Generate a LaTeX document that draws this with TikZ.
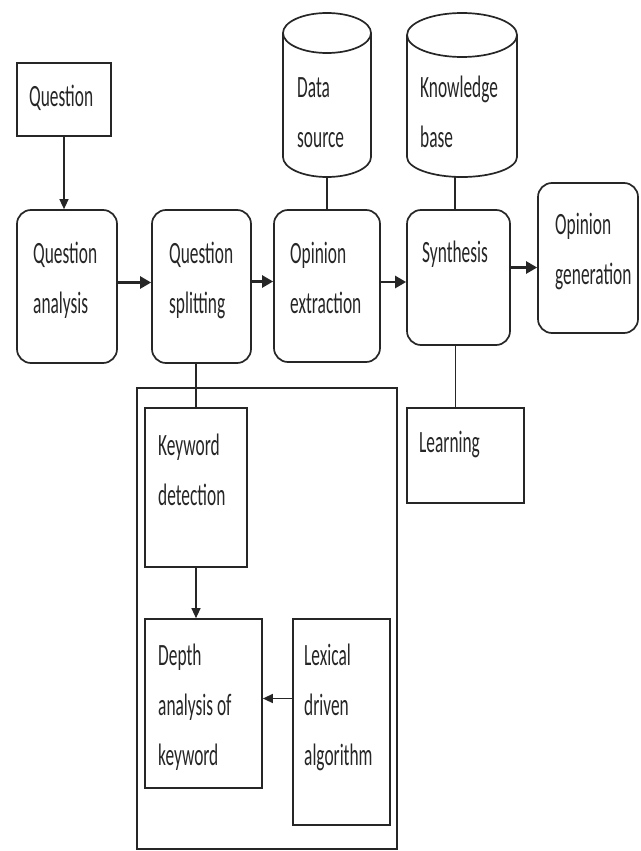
\documentclass[tikz,border=0pt]{standalone}
\usepackage{fontspec}
\setmainfont{Carlito}[FakeStretch=0.56]
\usetikzlibrary{arrows.meta,fit}
\definecolor{ln}{HTML}{262626}
\tikzset{
  x=1pt, y=-1pt,
  sq/.style={draw=ln, line width=1.7pt, inner sep=0pt},
  rbox/.style={sq, rounded corners=14pt},
  txt/.style={inner sep=0pt, anchor=base west, text=ln, font=\fontsize{31}{50}\selectfont},
  arr/.style={draw=ln, line width=1.3pt, -{Triangle[length=10pt,width=9pt]}},
  barr/.style={draw=ln, line width=2.4pt, -{Triangle[length=11pt,width=12pt]}},
  con/.style={draw=ln, line width=1.4pt},
}
\newcommand{\twol}[1]{\begin{tabular}[t]{@{}l@{}}#1\end{tabular}}
\begin{document}
\begin{tikzpicture}
\useasboundingbox (0,0) rectangle (640,851);
% container
\node[sq, line width=1.3pt, fit={(137,388) (397,849)}] (cont) {};
% boxes
\node[sq, fit={(17,63) (111,136)}] (q) {};
\node[rbox, fit={(17,210) (117,363)}] (qa) {};
\node[rbox, fit={(152,210) (251,363)}] (qs) {};
\node[rbox, fit={(274,210) (380,362)}] (oe) {};
\node[rbox, fit={(407,210) (510,345)}] (syn) {};
\node[rbox, fit={(538,183) (638,333)}] (og) {};
\node[sq, fit={(407,408) (524,503)}] (lr) {};
\node[sq, fit={(145,408) (247,567)}] (kd) {};
\node[sq, fit={(145,619) (262,788)}] (da) {};
\node[sq, fit={(293,619) (390,825)}] (lx) {};
% cylinders
\draw[con, line width=1.7pt] (283,33) -- (283,157) arc[start angle=180, end angle=360, x radius=44, y radius=-20] -- (371,33);
\draw[con, line width=1.7pt] (327,33) ellipse[x radius=44, y radius=20];
\coordinate (ds) at (327,177);
\draw[con, line width=1.7pt] (407,35) -- (407,157) arc[start angle=180, end angle=360, x radius=55, y radius=-20] -- (517,35);
\draw[con, line width=1.7pt] (462,35) ellipse[x radius=55, y radius=22];
\coordinate (kb) at (455,177);
% texts
\node[txt] (q-t) at (29,106) {Question};
\node[txt] (qa-t) at (33,263) {\twol{Question\\analysis}};
\node[txt] (qs-t) at (169,263) {\twol{Question\\splitting}};
\node[txt] (oe-t) at (290,263) {\twol{Opinion\\extraction}};
\node[txt] (syn-t) at (422,262) {Synthesis};
\node[txt] (og-t) at (555,234) {\twol{Opinion\\generation}};
\node[txt] (ds-t) at (297,97) {\twol{Data\\source}};
\node[txt] (kb-t) at (420,97) {\twol{Knowledge\\base}};
\node[txt] (lr-t) at (419,452) {Learning};
\node[txt] (kd-t) at (158,455) {\twol{Keyword\\detection}};
\node[txt] (da-t) at (158,665) {\twol{Depth\\analysis of\\keyword}};
\node[txt] (lx-t) at (304,665) {\twol{Lexical\\driven\\algorithm}};
% connectors
\draw[arr] (q.south) -- (q.south |- qa.north);
\draw[barr] ([yshift=4pt]qa.east) -- ([yshift=4pt]qa.east -| qs.west);
\draw[barr] ([yshift=5pt]qs.east) -- ([yshift=5pt]qs.east -| oe.west);
\draw[barr] ([yshift=4pt]oe.east) -- ([yshift=4pt]oe.east -| syn.west);
\draw[barr] ([yshift=10pt]syn.east) -- ([yshift=10pt]syn.east -| og.west);
\draw[con] (ds) -- (ds |- oe.north);
\draw[con] (kb) -- (kb |- syn.north);
\draw[con] ([xshift=-3pt]syn.south) -- ([xshift=-3pt]syn.south |- lr.north);
\draw[con] (kd.north |- qs.south) -- (kd.north);
\draw[arr] (kd.south) -- (kd.south |- da.north);
\coordinate (dae) at ([yshift=5pt]da.east);
\draw[arr] (lx.west |- dae) -- (dae);
\end{tikzpicture}
\end{document}
